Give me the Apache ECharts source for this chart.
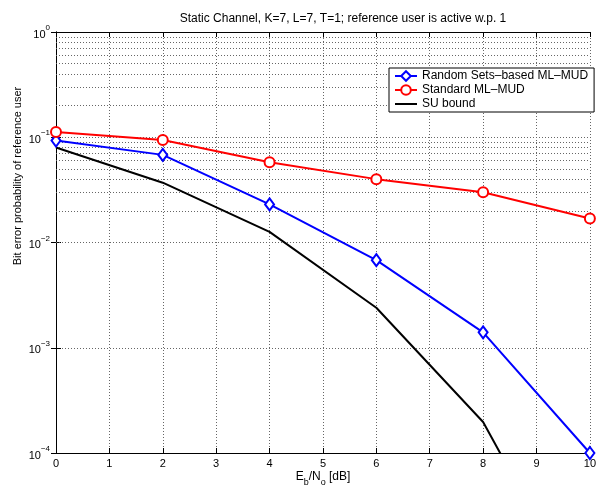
<!DOCTYPE html>
<html>
<head>
<meta charset="utf-8">
<script src="https://cdn.jsdelivr.net/npm/echarts@6/dist/echarts.min.js"></script>
<style>
  html, body { margin: 0; padding: 0; background: #fff; }
  #chart { width: 599px; height: 487px; }
</style>
</head>
<body>
<div id="chart"></div>
<script>
// Eb/No in dB
var snr = [0, 2, 4, 6, 8, 10];
var randomSets = [0.093, 0.068, 0.023, 0.0068, 0.0014, 0.0001];
var standard = [0.112, 0.094, 0.058, 0.040, 0.030, 0.0169];
var suBound = [0.080, 0.037, 0.0126, 0.0024, 0.000197, 0.0000028];
var seriesNames = ['Random Sets–based ML–MUD', 'Standard ML–MUD', 'SU bound'];

// minor log grid (2..9 x 10^k)
var minorLines = [];
for (var k = -4; k < 0; k++) {
  for (var m = 2; m <= 9; m++) {
    minorLines.push(m * Math.pow(10, k));
  }
}

var font = 'Liberation Sans, Arial, Helvetica, sans-serif';
var dotted = { color: '#666', width: 1, type: [1, 2] };

const myCharts = echarts.init(document.getElementById('chart'));

function pair(xs, ys) {
  var out = [];
  for (var i = 0; i < xs.length; i++) out.push([xs[i], ys[i]]);
  return out;
}

var option = {
  backgroundColor: '#ffffff',
  animation: false,
  title: {
    text: 'Static Channel, K=7, L=7, T=1; reference user is active w.p. 1',
    left: 338,
    textAlign: 'center',
    top: 8,
    textStyle: { fontFamily: font, fontSize: 12, fontWeight: 'normal', color: '#000' }
  },
  grid: { left: 56, right: 8, top: 32, bottom: 34 },
  legend: {
    data: [
      { name: seriesNames[0] },
      { name: seriesNames[1] },
      { name: seriesNames[2], itemStyle: { opacity: 0 } }
    ],
    orient: 'vertical',
    left: 389,
    top: 68,
    width: 203,
    padding: [2, 6, 2, 5],
    itemGap: 2,
    itemWidth: 22,
    itemHeight: 12,
    borderColor: '#000',
    borderWidth: 1,
    backgroundColor: '#fff',
    textStyle: { fontFamily: font, fontSize: 12, color: '#000' }
  },
  graphic: [
    {
      type: 'text',
      x: 18,
      y: 176,
      rotation: Math.PI / 2,
      style: {
        text: 'Bit error probability of reference user',
        fontFamily: font, fontSize: 11, fill: '#000',
        align: 'center', verticalAlign: 'middle'
      }
    },
    {
      type: 'text',
      x: 323,
      y: 479,
      style: {
        text: '{n|E}{s|b}{n|/N}{s|o}{n| [dB]}',
        align: 'center', verticalAlign: 'middle',
        rich: {
          n: { fontFamily: font, fontSize: 12, fill: '#000', lineHeight: 17, verticalAlign: 'top' },
          s: { fontFamily: font, fontSize: 9, fill: '#000', lineHeight: 10, verticalAlign: 'bottom' }
        }
      }
    }
  ],
  xAxis: [{
    type: 'value',
    min: 0, max: 10, interval: 1,
    axisLine: { lineStyle: { color: '#000', width: 1 } },
    axisTick: { inside: true, length: 5, lineStyle: { color: '#000' } },
    axisLabel: { fontFamily: font, fontSize: 11, color: '#000', margin: 5 },
    splitLine: { show: true, lineStyle: dotted }
  }, {
    type: 'value',
    position: 'top',
    min: 0, max: 10, interval: 1,
    axisLine: { lineStyle: { color: '#000', width: 1 } },
    axisTick: { inside: true, length: 5, lineStyle: { color: '#000' } },
    axisLabel: { show: false },
    splitLine: { show: false }
  }],
  yAxis: [{
    type: 'log',
    logBase: 10,
    min: 1e-4, max: 1,
    axisLine: { show: true, lineStyle: { color: '#000', width: 1 } },
    axisTick: { show: true, inside: true, length: 5, lineStyle: { color: '#000' } },
    axisLabel: {
      margin: 6,
      formatter: function (v) {
        var e = Math.round(Math.log10(v));
        return '{b|10}{s|' + (e < 0 ? '−' + (-e) : e) + '}';
      },
      rich: {
        b: { fontFamily: font, fontSize: 11, color: '#000', lineHeight: 16, verticalAlign: 'bottom' },
        s: { fontFamily: font, fontSize: 8, color: '#000', lineHeight: 8, verticalAlign: 'top' }
      }
    },
    splitLine: { show: true, lineStyle: dotted }
  }, {
    type: 'log',
    logBase: 10,
    position: 'right',
    min: 1e-4, max: 1,
    axisLine: { show: true, lineStyle: { color: '#000', width: 1 } },
    axisTick: { show: true, inside: true, length: 5, lineStyle: { color: '#000' } },
    axisLabel: { show: false },
    splitLine: { show: false }
  }],
  series: [
    {
      name: seriesNames[2],
      type: 'line',
      data: pair(snr, suBound),
      showSymbol: false,
      symbol: 'none',
      lineStyle: { color: '#000', width: 2 },
      itemStyle: { color: '#000' },
      z: 3,
      markLine: {
        silent: true,
        symbol: 'none',
        label: { show: false },
        lineStyle: dotted,
        z: 1,
        data: minorLines.map(function (v) { return { yAxis: v }; })
      }
    },
    {
      name: seriesNames[0],
      type: 'line',
      data: pair(snr, randomSets),
      symbol: 'emptyDiamond',
      symbolSize: [9, 12],
      lineStyle: { color: '#0000ff', width: 2 },
      itemStyle: { color: '#0000ff', borderWidth: 2 },
      z: 4
    },
    {
      name: seriesNames[1],
      type: 'line',
      data: pair(snr, standard),
      symbol: 'emptyCircle',
      symbolSize: 10,
      lineStyle: { color: '#ff0000', width: 2 },
      itemStyle: { color: '#ff0000', borderWidth: 2 },
      z: 5
    }
  ]
};

myCharts.setOption(option);
</script>
</body>
</html>
